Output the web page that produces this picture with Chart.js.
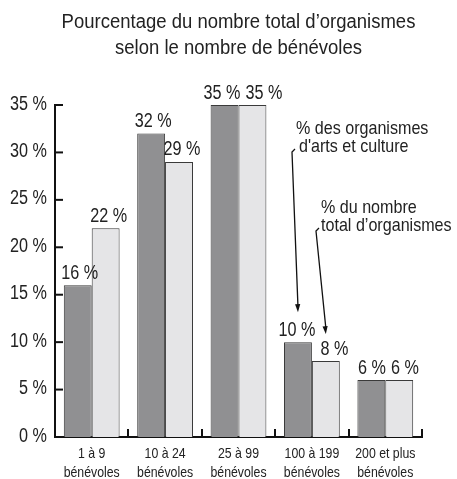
<!DOCTYPE html>
<html lang="fr">
<head>
    <meta charset="UTF-8">
    <title>Bénévoles</title>
    <script src="https://cdn.jsdelivr.net/npm/chart.js"></script>
</head>
<style>
    body{
        margin: 0;
        background: #fff;
    }
    #chartBox{
        width: 457px;
        height: 479px;
    }
</style>
<body>
    <div id="chartBox">
        <canvas id="barCanvas" width="457" height="479"></canvas>
    </div>
    <script>
        var categories = [['1 à 9', 'bénévoles'], ['10 à 24', 'bénévoles'], ['25 à 99', 'bénévoles'], ['100 à 199', 'bénévoles'], ['200 et plus', 'bénévoles']];
        var artsValues = [16, 32, 35, 10, 6];
        var totalValues = [22, 29, 35, 8, 6];
        var yTicks = [0, 5, 10, 15, 20, 25, 30, 35];
        var titleLines = ['Pourcentage du nombre total d\u2019organismes', 'selon le nombre de bénévoles'];
        var artsLabel = ['% des organismes', 'd\'arts et culture'];
        var totalLabel = ['% du nombre', 'total d\u2019organismes'];

        var fontName = '"Liberation Sans", Arial, sans-serif';

        // the original uses a condensed face, so squeeze the text horizontally
        function squeezedText(ctx, text, x, y, size, align, sx) {
            ctx.save();
            ctx.translate(x, y);
            ctx.scale(sx, 1);
            ctx.font = size + 'px ' + fontName;
            ctx.textAlign = align;
            ctx.textBaseline = 'alphabetic';
            ctx.fillText(text, 0, 0);
            ctx.restore();
        }

        function squeezedWidth(ctx, text, size, sx) {
            ctx.font = size + 'px ' + fontName;
            return ctx.measureText(text).width * sx;
        }

        var decorations = {
            id: 'decorations',
            afterDraw: function (chart) {
                var ctx = chart.ctx;
                var area = chart.chartArea;
                var xs = chart.scales.x;
                var ys = chart.scales.y;
                ctx.save();
                ctx.fillStyle = '#222';

                var cx = (area.left + area.right) / 2;
                squeezedText(ctx, titleLines[0], cx, 27.5, 20, 'center', 0.925);
                squeezedText(ctx, titleLines[1], cx, 53.5, 20, 'center', 0.925);

                // y labels and inward ticks
                ctx.strokeStyle = '#111';
                ctx.lineWidth = 2;
                yTicks.forEach(function (v) {
                    var py = ys.getPixelForValue(v);
                    squeezedText(ctx, v + ' %', area.left - 8, py + 4.5, 20, 'right', 0.81);
                    ctx.beginPath();
                    ctx.moveTo(area.left, py);
                    ctx.lineTo(area.left + 8, py);
                    ctx.stroke();
                });

                // x labels and inward ticks at category boundaries
                categories.forEach(function (lines, i) {
                    var px = xs.getPixelForValue(i);
                    squeezedText(ctx, lines[0], px, area.bottom + 21, 15, 'center', 0.82);
                    squeezedText(ctx, lines[1], px, area.bottom + 40, 15, 'center', 0.82);
                });
                var step = (area.right - area.left) / categories.length;
                for (var i = 1; i <= categories.length; i++) {
                    var bx = Math.round(area.left + step * i);
                    ctx.beginPath();
                    ctx.moveTo(bx, area.bottom);
                    ctx.lineTo(bx, area.bottom - 8);
                    ctx.stroke();
                }

                // value labels, pushed apart when a pair sits at the same height
                var dark = chart.getDatasetMeta(0).data;
                var light = chart.getDatasetMeta(1).data;
                categories.forEach(function (c, k) {
                    var t0 = artsValues[k] + ' %';
                    var t1 = totalValues[k] + ' %';
                    var x0 = dark[k].x + 2;
                    var x1 = light[k].x + 3;
                    var w0 = squeezedWidth(ctx, t0, 20, 0.81);
                    var w1 = squeezedWidth(ctx, t1, 20, 0.81);
                    if (Math.abs(dark[k].y - light[k].y) < 20) {
                        var need = (w0 + w1) / 2 + 5 - (x1 - x0);
                        if (need > 0) {
                            x0 -= need * 0.35;
                            x1 += need * 0.65;
                        }
                    }
                    squeezedText(ctx, t0, x0, dark[k].y - 6.5, 20, 'center', 0.81);
                    squeezedText(ctx, t1, x1, light[k].y - 6.5, 20, 'center', 0.81);
                });

                // notes with arrows
                squeezedText(ctx, artsLabel[0], 296, 133.5, 18.5, 'left', 0.87);
                squeezedText(ctx, artsLabel[1], 299, 151.5, 18.5, 'left', 0.87);
                squeezedText(ctx, totalLabel[0], 321, 213, 18.5, 'left', 0.87);
                squeezedText(ctx, totalLabel[1], 321, 231, 18.5, 'left', 0.87);
                drawArrow(ctx, [[295, 149], [292, 152]], dark[3].x, dark[3].y - 30);
                drawArrow(ctx, [[319, 228], [316, 231]], light[3].x, light[3].y - 27);

                ctx.restore();
            }
        };

        function drawArrow(ctx, start, tx, ty) {
            ctx.strokeStyle = '#111';
            ctx.fillStyle = '#111';
            ctx.lineWidth = 1.3;
            ctx.beginPath();
            ctx.moveTo(start[0][0], start[0][1]);
            ctx.lineTo(start[1][0], start[1][1]);
            ctx.lineTo(tx, ty - 6);
            ctx.stroke();
            var ang = Math.atan2(ty - start[1][1], tx - start[1][0]);
            ctx.beginPath();
            ctx.moveTo(tx, ty);
            ctx.lineTo(tx - 8 * Math.cos(ang) + 2.6 * Math.sin(ang), ty - 8 * Math.sin(ang) - 2.6 * Math.cos(ang));
            ctx.lineTo(tx - 8 * Math.cos(ang) - 2.6 * Math.sin(ang), ty - 8 * Math.sin(ang) + 2.6 * Math.cos(ang));
            ctx.closePath();
            ctx.fill();
        }

        var ctx = document.getElementById('barCanvas').getContext('2d');
        window.myChart = new Chart(ctx, {
            type: 'bar',
            data: {
                labels: categories,
                datasets: [{
                    label: artsLabel.join(' '),
                    data: artsValues,
                    backgroundColor: '#909092',
                    borderColor: '#3a3a3a',
                    borderWidth: 1
                }, {
                    label: totalLabel.join(' '),
                    data: totalValues,
                    backgroundColor: '#e5e5e7',
                    borderColor: '#3a3a3a',
                    borderWidth: 1
                }]
            },
            options: {
                responsive: false,
                animation: false,
                layout: {
                    padding: { top: 105, left: 55, right: 35, bottom: 42 }
                },
                datasets: {
                    bar: { categoryPercentage: 0.76, barPercentage: 1.0 }
                },
                scales: {
                    x: {
                        grid: { display: false, drawTicks: false },
                        border: { display: true, color: '#111', width: 2 },
                        ticks: { display: false }
                    },
                    y: {
                        min: 0,
                        max: 35,
                        grid: { display: false, drawTicks: false },
                        border: { display: true, color: '#111', width: 2 },
                        ticks: { display: false }
                    }
                },
                plugins: {
                    legend: { display: false },
                    tooltip: { enabled: false }
                }
            },
            plugins: [decorations]
        });
    </script>
</body>
</html>
